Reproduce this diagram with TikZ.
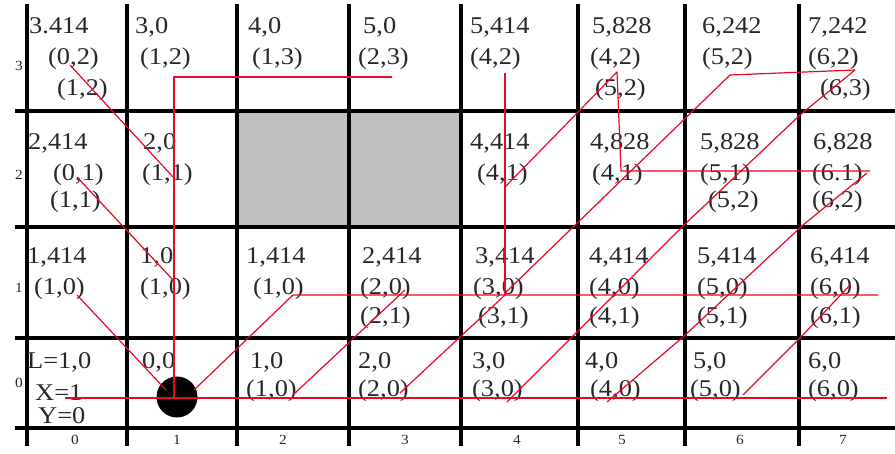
\documentclass[tikz,border=0pt]{standalone}
\usepackage{fontspec}
\newfontfamily\cellfamily{Liberation Serif}[FakeStretch=1.1]
\newcommand\cellfnt{\cellfamily\fontsize{24}{24}\selectfont}
\newcommand\lblfnt{\cellfamily\fontsize{14}{14}\selectfont}
\definecolor{linered}{RGB}{232,10,35}
\definecolor{txtgray}{RGB}{40,40,40}
\definecolor{cellgray}{RGB}{192,192,192}
\tikzset{
  gridline/.style={line width=3.5pt, black},
  txt/.style={anchor=base west, inner sep=0pt, font=\cellfnt, text=txtgray},
  lbl/.style={anchor=center, inner sep=0pt, font=\lblfnt, text=txtgray},
  redline/.style={draw=linered, line width=1.2pt, line join=round},
}
\newcommand\T[4]{\node[txt] (#1) at (#2,#3) {#4};}
\begin{document}
\begin{tikzpicture}[x=1pt,y=-1pt]
\useasboundingbox[fill=white] (0,0) rectangle (895,453);
% blocked cells
\fill[cellgray] (237,111) rectangle (461,227);
% grid
\foreach \gx in {27,127,237,349,461,578,685,799} {\draw[gridline] (\gx,4) -- (\gx,446);}
\foreach \gy in {111,227,338,428} {\draw[gridline] (15,\gy) -- (895,\gy);}
% row and column labels
\node[lbl] (r3) at (19,66) {3};
\node[lbl] (r2) at (19,175) {2};
\node[lbl] (r1) at (19,288) {1};
\node[lbl] (r0) at (19,383) {0};
\node[lbl] (k0) at (75,440) {0};
\node[lbl] (k1) at (177,440) {1};
\node[lbl] (k2) at (283,440) {2};
\node[lbl] (k3) at (405,440) {3};
\node[lbl] (k4) at (517,440) {4};
\node[lbl] (k5) at (622,440) {5};
\node[lbl] (k6) at (740,440) {6};
\node[lbl] (k7) at (843,440) {7};
% row 3
\T{a0a}{29}{33}{3.414} \T{a0b}{48}{64}{(0,2)} \T{a0c}{57}{95}{(1,2)}
\T{a1a}{135}{33}{3,0} \T{a1b}{140}{64}{(1,2)}
\T{a2a}{248}{33}{4,0} \T{a2b}{252}{64}{(1,3)}
\T{a3a}{363}{33}{5,0} \T{a3b}{358}{64}{(2,3)}
\T{a4a}{470}{33}{5,414} \T{a4b}{470}{64}{(4,2)}
\T{a5a}{592}{33}{5,828} \T{a5b}{590}{64}{(4,2)} \T{a5c}{595}{95}{(5,2)}
\T{a6a}{702}{33}{6,242} \T{a6b}{702}{64}{(5,2)}
\T{a7a}{808}{33}{7,242} \T{a7b}{808}{64}{(6,2)} \T{a7c}{820}{95}{(6,3)}
% row 2
\T{b0a}{28}{149}{2,414} \T{b0b}{53}{180}{(0,1)} \T{b0c}{50}{207}{(1,1)}
\T{b1a}{143}{149}{2,0} \T{b1b}{142}{180}{(1,1)}
\T{b4a}{470}{149}{4,414} \T{b4b}{477}{180}{(4,1)}
\T{b5a}{590}{149}{4,828} \T{b5b}{592}{180}{(4,1)}
\T{b6a}{700}{149}{5,828} \T{b6b}{700}{180}{(5,1)} \T{b6c}{708}{207}{(5,2)}
\T{b7a}{813}{149}{6,828} \T{b7b}{812}{180}{(6.1)} \T{b7c}{812}{207}{(6,2)}
% row 1
\T{c0a}{27}{263}{1,414} \T{c0b}{34}{294}{(1,0)}
\T{c1a}{140}{263}{1,0} \T{c1b}{140}{294}{(1,0)}
\T{c2a}{246}{263}{1,414} \T{c2b}{253}{294}{(1,0)}
\T{c3a}{362}{263}{2,414} \T{c3b}{360}{294}{(2,0)} \T{c3c}{360}{323}{(2,1)}
\T{c4a}{475}{263}{3,414} \T{c4b}{473}{294}{(3,0)} \T{c4c}{478}{323}{(3,1)}
\T{c5a}{589}{263}{4,414} \T{c5b}{589}{294}{(4,0)} \T{c5c}{589}{323}{(4,1)}
\T{c6a}{697}{263}{5,414} \T{c6b}{697}{294}{(5,0)} \T{c6c}{697}{323}{(5,1)}
\T{c7a}{810}{263}{6,414} \T{c7b}{810}{294}{(6,0)} \T{c7c}{810}{323}{(6,1)}
% row 0
\T{d0a}{27}{368}{L=1,0} \T{d0b}{35}{400}{X=1} \T{d0c}{38}{423}{Y=0}
\T{d1a}{142}{368}{0,0}
\T{d2a}{250}{368}{1,0} \T{d2b}{246}{396}{(1,0)}
\T{d3a}{358}{368}{2,0} \T{d3b}{358}{396}{(2,0)}
\T{d4a}{472}{368}{3,0} \T{d4b}{472}{396}{(3,0)}
\T{d5a}{585}{368}{4,0} \T{d5b}{590}{396}{(4,0)}
\T{d6a}{693}{368}{5,0} \T{d6b}{690}{396}{(5,0)}
\T{d7a}{808}{368}{6,0} \T{d7b}{808}{396}{(6,0)}
% robot
\node[circle, fill=black, minimum size=41pt, inner sep=0pt] (robot) at (177,397) {};
% red path endpoints
\coordinate (p1a) at (65,398);  \coordinate (p1b) at (887,398);
\coordinate (p2a) at (392,77);  \coordinate (p2b) at (174,77);  \coordinate (p2c) at (174,398);
\coordinate (p3a) at (70,65);   \coordinate (p3b) at (173,177);
\coordinate (p4a) at (77,177);  \coordinate (p4b) at (173,280);
\coordinate (p5a) at (77,295);  \coordinate (p5b) at (166,390);
\coordinate (p6a) at (194,390); \coordinate (p6b) at (293,295); \coordinate (p6c) at (878,295);
\coordinate (p7a) at (293,395); \coordinate (p7b) at (405,290);
\coordinate (p8a) at (400,393); \coordinate (p8b) at (505,295);
\coordinate (p9a) at (505,73);
\coordinate (p10a) at (505,187); \coordinate (p10b) at (617,72); \coordinate (p10c) at (621,171); \coordinate (p10d) at (870,171);
\coordinate (p11a) at (505,293); \coordinate (p11b) at (730,75); \coordinate (p11c) at (855,70);
\coordinate (p12a) at (507,402); \coordinate (p12b) at (683,226); \coordinate (p12c) at (800,115);
\coordinate (p13a) at (607,402); \coordinate (p13b) at (683,337); \coordinate (p13c) at (803,225); \coordinate (p13d) at (867,173);
\coordinate (p14a) at (743,395); \coordinate (p14b) at (800,338); \coordinate (p14c) at (850,285);
% red paths
\draw[redline] (p1a) -- (p1b);
\draw[redline] (p2a) -- (p2b) -- (p2c);
\draw[redline] (p3a) -- (p3b);
\draw[redline] (p4a) -- (p4b);
\draw[redline] (p5a) -- (p5b);
\draw[redline] (p6a) -- (p6b) -- (p6c);
\draw[redline] (p7a) -- (p7b);
\draw[redline] (p8a) -- (p8b);
\draw[redline] (p9a) -- (p8b);
\draw[redline] (p10a) -- (p10b) -- (p10c) -- (p10d);
\draw[redline] (p11a) -- (p11b) -- (p11c);
\draw[redline] (p12a) -- (p12b) -- (p12c) -- (p11c);
\draw[redline] (p13a) -- (p13b) -- (p13c) -- (p13d);
\draw[redline] (p14a) -- (p14b) -- (p14c);
\end{tikzpicture}
\end{document}
